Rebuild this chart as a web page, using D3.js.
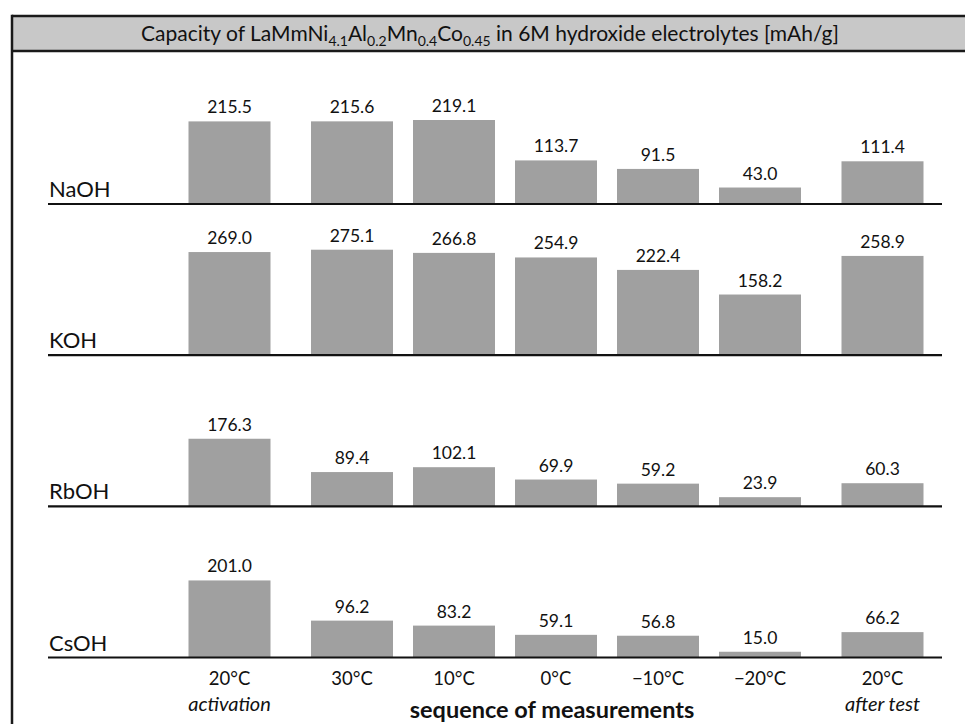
<!DOCTYPE html>
<html>
<head>
<meta charset="utf-8">
<script src="https://cdn.jsdelivr.net/npm/d3@7"></script>
<style>
  html, body { margin: 0; padding: 0; background: #fff; }
  svg { display: block; font-family: Lato, "Open Sans", sans-serif; }
</style>
</head>
<body>
<svg id="chart" width="965" height="724"></svg>
<script>
// ---- data ----
const electrolytes = ["NaOH", "KOH", "RbOH", "CsOH"];
const stepLabels = ["20°C", "30°C", "10°C", "0°C", "\u221210°C", "\u221220°C", "20°C"];
const stepNotes = ["activation", "", "", "", "", "", "after test"];
const naohValues = [215.5, 215.6, 219.1, 113.7, 91.5, 43.0, 111.4];
const kohValues  = [269.0, 275.1, 266.8, 254.9, 222.4, 158.2, 258.9];
const rbohValues = [176.3, 89.4, 102.1, 69.9, 59.2, 23.9, 60.3];
const csohValues = [201.0, 96.2, 83.2, 59.1, 56.8, 15.0, 66.2];
const seriesValues = [naohValues, kohValues, rbohValues, csohValues];
const xTitle = "sequence of measurements";

// ---- layout ----
const svg = d3.select("#chart");
const W = 965, H = 724;
const frameLeft = 12, frameTop = 16, bandBottom = 51;

// frame & title band
svg.append("rect").attr("x", frameLeft).attr("y", frameTop)
  .attr("width", W + 20).attr("height", bandBottom - frameTop)
  .attr("fill", "#c8c8c8");
svg.append("line").attr("x1", frameLeft).attr("x2", W + 5).attr("y1", frameTop).attr("y2", frameTop)
  .attr("stroke", "#1a1a1a").attr("stroke-width", 2.5);
svg.append("line").attr("x1", frameLeft).attr("x2", W + 5).attr("y1", bandBottom).attr("y2", bandBottom)
  .attr("stroke", "#1a1a1a").attr("stroke-width", 2.5);
svg.append("line").attr("x1", frameLeft).attr("x2", frameLeft).attr("y1", frameTop - 1.2).attr("y2", H + 5)
  .attr("stroke", "#1a1a1a").attr("stroke-width", 2.5);

// title with subscripts
const title = svg.append("text").attr("x", 490).attr("y", 41)
  .attr("text-anchor", "middle").attr("font-size", 21).attr("fill", "#111");
const titleParts = [
  ["Capacity of LaMmNi", false], ["4.1", true], ["Al", false], ["0.2", true],
  ["Mn", false], ["0.4", true], ["Co", false], ["0.45", true],
  [" in 6M hydroxide electrolytes [mAh/g]", false]
];
titleParts.forEach(([t, sub], i) => {
  const prevSub = i > 0 && titleParts[i - 1][1];
  const ts = title.append("tspan").text(t).attr("dy", sub ? 4.5 : (prevSub ? -4.5 : 0));
  if (sub) ts.attr("font-size", 14);
});

// scales
const x = d3.scaleBand().domain(d3.range(stepLabels.length))
  .range([199, 913]).paddingInner(0.196).paddingOuter(0.098);
const groupShift = i => (i === 0 ? -20.5 : (i === stepLabels.length - 1 ? 20.5 : 0));
const bx = i => x(i) + groupShift(i);

const rowScale = d3.scalePoint().domain(electrolytes).range([204, 657.5]);
const h = d3.scaleLinear().domain([0, 300]).range([0, 115]);

electrolytes.forEach((name, r) => {
  const base = rowScale(name);
  const g = svg.append("g");
  const vals = seriesValues[r];

  g.selectAll("rect.bar").data(vals).join("rect")
    .attr("class", "bar")
    .attr("x", (d, i) => bx(i))
    .attr("y", d => base - h(d))
    .attr("width", x.bandwidth())
    .attr("height", d => h(d))
    .attr("fill", "#a0a0a0");

  g.selectAll("text.val").data(vals).join("text")
    .attr("class", "val")
    .attr("x", (d, i) => bx(i) + x.bandwidth() / 2)
    .attr("y", d => base - h(d) - 8)
    .attr("text-anchor", "middle")
    .attr("font-size", 17.5)
    .attr("fill", "#111")
    .text(d => d.toFixed(1));

  g.append("line").attr("x1", 48).attr("x2", 942).attr("y1", base).attr("y2", base)
    .attr("stroke", "#111").attr("stroke-width", 2.2);

  g.append("text").attr("x", 49).attr("y", base - 7)
    .attr("font-size", 22).attr("fill", "#111").text(name);
});

// x tick labels
const lastBase = rowScale(electrolytes[electrolytes.length - 1]);
svg.append("g").selectAll("text").data(stepLabels).join("text")
  .attr("x", (d, i) => bx(i) + x.bandwidth() / 2)
  .attr("y", lastBase + 27.5)
  .attr("text-anchor", "middle").attr("font-size", 18.5).attr("fill", "#111")
  .text(d => d);
svg.append("g").selectAll("text").data(stepNotes).join("text")
  .attr("x", (d, i) => bx(i) + x.bandwidth() / 2)
  .attr("y", lastBase + 53.5)
  .attr("text-anchor", "middle").attr("font-size", 20).attr("font-style", "italic")
  .attr("fill", "#111")
  .text(d => d);

svg.append("text").attr("x", 552).attr("y", lastBase + 60)
  .attr("text-anchor", "middle").attr("font-size", 23.5).attr("font-weight", "bold")
  .attr("fill", "#111").text(xTitle);
</script>
</body>
</html>
